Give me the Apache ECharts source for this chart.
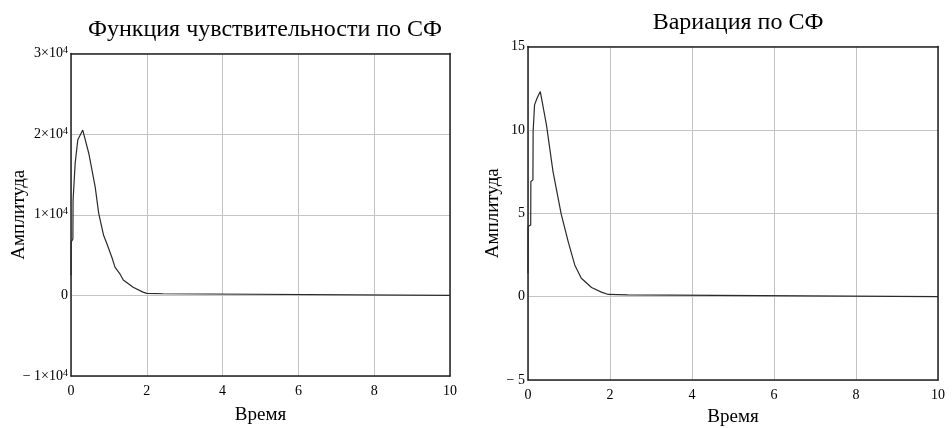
<!DOCTYPE html>
<html><head><meta charset="utf-8">
<script src="https://cdn.jsdelivr.net/npm/echarts@6/dist/echarts.min.js"></script>
<style>html,body{margin:0;padding:0;background:#fff}#c{width:952px;height:428px}</style>
</head><body><div id="c"></div>
<script>
const titleLeft = 'Функция чувствительности по СФ';
const titleRight = 'Вариация по СФ';
const xName = 'Время';
const yName = 'Амплитуда';
const xTicks = [0, 2, 4, 6, 8, 10];
const sensTicks = [-10000, 0, 10000, 20000, 30000];
const varTicks = [-5, 0, 5, 10, 15];
// Left chart: sensitivity function
const sensT = [0, 0.003, 0.05, 0.055, 0.11, 0.18, 0.31, 0.47, 0.64, 0.73, 0.86, 0.94, 1.08, 1.16, 1.30, 1.38, 1.64, 1.90, 2.0, 2.43, 2.44, 10];
const sensV = [2500, 6600, 7000, 11800, 16400, 19300, 20500, 17600, 13400, 10200, 7450, 6500, 4700, 3500, 2600, 1900, 1000, 400, 250, 200, 0, 0];
// Right chart: variation
const varT = [0, 0.003, 0.066, 0.07, 0.12, 0.125, 0.16, 0.22, 0.30, 0.45, 0.61, 0.81, 0.98, 1.14, 1.30, 1.55, 1.79, 1.96, 2.43, 2.44, 10];
const varV = [1.4, 4.2, 4.3, 6.9, 7.0, 9.9, 11.5, 11.9, 12.3, 10.3, 7.5, 4.95, 3.3, 1.9, 1.1, 0.55, 0.27, 0.13, 0.1, 0, 0];

const FONT = '"Liberation Serif", "DejaVu Serif", serif';
const pair = (ts, vs) => ts.map((t, i) => [t, vs[i]]);

function sciLabel(v) {
  if (v === 0) return '{a|0}';
  const m = v / 10000;
  return '{a|' + (m < 0 ? '− ' + Math.abs(m) : m) + '×10}{s|4}';
}
function plainLabel(v) {
  return v < 0 ? '{a|− ' + Math.abs(v) + '}' : '{a|' + v + '}';
}
const rich = {
  a: {fontFamily: FONT, fontSize: 14, color: '#000', lineHeight: 16},
  s: {fontFamily: FONT, fontSize: 10, color: '#000', verticalAlign: 'top', lineHeight: 10, padding: [0, 0, 6, 0]}
};
const frameLine = {show: true, onZero: false, lineStyle: {color: '#222', width: 1.5}};

function xAxis(gi, gap) {
  return {
    type: 'value', gridIndex: gi, min: xTicks[0], max: xTicks[xTicks.length - 1], interval: 2,
    name: xName, nameLocation: 'middle', nameGap: gap, nameMoveOverlap: false,
    nameTextStyle: {fontFamily: FONT, fontSize: 19, color: '#000'},
    axisLine: frameLine,
    axisTick: {show: false},
    axisLabel: {fontFamily: FONT, fontSize: 14, color: '#000', margin: 8},
    splitLine: {show: true, lineStyle: {color: '#c4c4c4', width: 1}}
  };
}
function xTop(gi) {
  return {type: 'value', gridIndex: gi, position: 'top', min: 0, max: 10, axisLine: frameLine,
    axisTick: {show: false}, axisLabel: {show: false}, splitLine: {show: false}};
}
function yAxis(gi, min, max, interval, fmt, gap) {
  return {
    type: 'value', gridIndex: gi, min, max, interval,
    name: yName, nameLocation: 'middle', nameGap: gap, nameMoveOverlap: false,
    nameTextStyle: {fontFamily: FONT, fontSize: 19, color: '#000'},
    axisLine: frameLine,
    axisTick: {show: false},
    axisLabel: {formatter: fmt, rich, margin: 3},
    splitLine: {show: true, lineStyle: {color: '#c4c4c4', width: 1}}
  };
}
function yRight(gi, min, max) {
  return {type: 'value', gridIndex: gi, position: 'right', min, max, axisLine: frameLine,
    axisTick: {show: false}, axisLabel: {show: false}, splitLine: {show: false}};
}

const chart = echarts.init(document.getElementById('c'), null, {renderer: 'canvas'});
chart.setOption({
  animation: false,
  backgroundColor: '#fff',
  title: [
    {text: titleLeft, left: 260, top: 13, textAlign: 'center',
     textStyle: {fontFamily: FONT, fontSize: 24, fontWeight: 'normal', color: '#000'}},
    {text: titleRight, left: 733, top: 6, textAlign: 'center',
     textStyle: {fontFamily: FONT, fontSize: 24, fontWeight: 'normal', color: '#000'}}
  ],
  grid: [
    {left: 71, right: 502, top: 53.5, bottom: 52, containLabel: false, outerBoundsMode: 'none'},
    {left: 528, right: 14, top: 46.5, bottom: 48, containLabel: false, outerBoundsMode: 'none'}
  ],
  xAxis: [xAxis(0, 30), xAxis(1, 28), xTop(0), xTop(1)],
  yAxis: [
    yAxis(0, sensTicks[0], sensTicks[sensTicks.length - 1], 10000, sciLabel, 42),
    yAxis(1, varTicks[0], varTicks[varTicks.length - 1], 5, plainLabel, 25),
    yRight(0, sensTicks[0], sensTicks[sensTicks.length - 1]),
    yRight(1, varTicks[0], varTicks[varTicks.length - 1])
  ],
  series: [
    {type: 'line', xAxisIndex: 0, yAxisIndex: 0, data: pair(sensT, sensV), showSymbol: false,
     lineStyle: {color: '#2a2a2a', width: 1.2}},
    {type: 'line', xAxisIndex: 1, yAxisIndex: 1, data: pair(varT, varV), showSymbol: false,
     lineStyle: {color: '#2a2a2a', width: 1.2}}
  ]
});
</script></body></html>
